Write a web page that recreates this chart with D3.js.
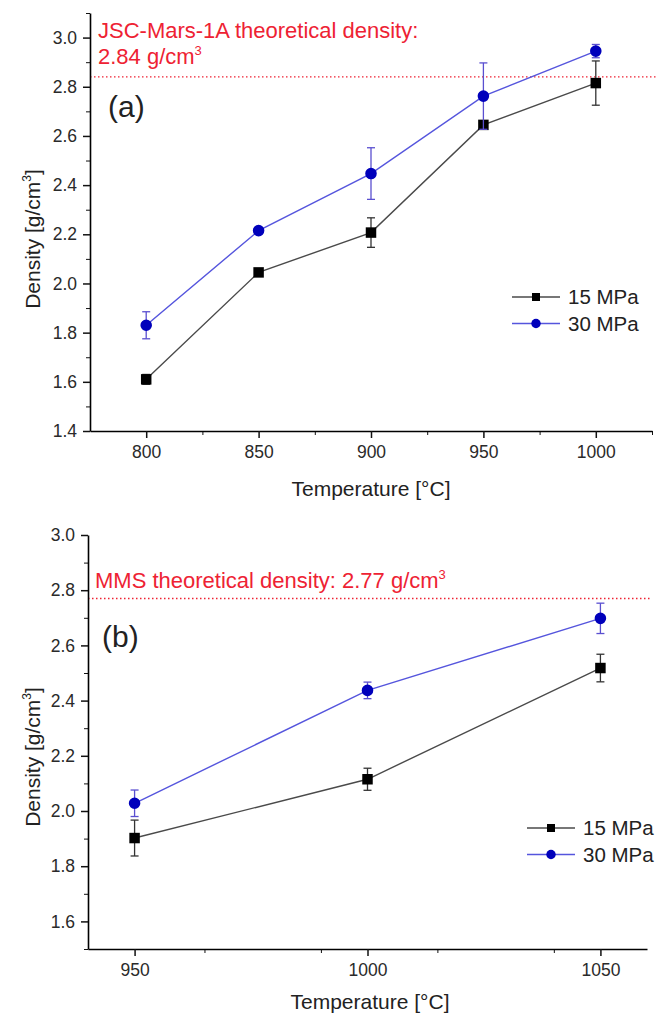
<!DOCTYPE html>
<html>
<head>
<meta charset="utf-8">
<script src="https://cdn.jsdelivr.net/npm/d3@7"></script>
<style>
  body { margin: 0; background: #fff; }
  svg { display: block; font-family: "Liberation Sans", Arial, sans-serif; }
</style>
</head>
<body>
<svg id="chart" width="666" height="1015"></svg>
<script>
// panel (a): JSC-Mars-1A
const tempsA = [800, 850, 900, 950, 1000];
const dens15A = [1.61, 2.045, 2.207, 2.645, 2.815];
const err15A = [0.02, 0.01, 0.06, 0.01, 0.09];
const dens30A = [1.83, 2.215, 2.447, 2.762, 2.945];
const err30A = [0.055, 0.01, 0.105, 0.135, 0.027];
const xTicksA = [800, 850, 900, 950, 1000];
const yTicksA = [1.4, 1.6, 1.8, 2.0, 2.2, 2.4, 2.6, 2.8, 3.0];
const theoA = 2.84;

// panel (b): MMS
const tempsB = [950, 1000, 1050];
const dens15B = [1.902, 2.115, 2.518];
const err15B = [0.065, 0.04, 0.05];
const dens30B = [2.028, 2.437, 2.698];
const err30B = [0.048, 0.03, 0.055];
const xTicksB = [950, 1000, 1050];
const yTicksB = [1.6, 1.8, 2.0, 2.2, 2.4, 2.6, 2.8, 3.0];
const theoB = 2.77;

const seriesNames = ["15 MPa", "30 MPa"];

const red = "#ee2233";
const styles = [
    {line: "#4a4a4a", marker: "#000", err: "#333", shape: "square"},
    {line: "#5555dd", marker: "#0000bb", err: "#5a4fd0", shape: "circle"}
];

const svg = d3.select("#chart");

function drawPanel(p) {
    const x = d3.scaleLinear().domain(p.xDomain).range(p.xRange);
    const y = d3.scaleLinear().domain(p.yDomain).range(p.yRange);
    const g = svg.append("g");

    // reference line
    g.append("line")
        .attr("x1", p.xRange[0]).attr("x2", p.xRange[1] + 4)
        .attr("y1", y(p.theo)).attr("y2", y(p.theo))
        .attr("stroke", red).attr("stroke-width", 1.3)
        .attr("stroke-dasharray", "1.5,2.5");

    // minor ticks
    const xMinor = d3.range(p.xDomain[0], p.xDomain[1] + 0.1, 25).filter(v => v % 50 !== 0 && v > p.xDomain[0]);
    g.append("g")
        .attr("transform", `translate(0,${p.yRange[0]})`)
        .call(d3.axisBottom(x).tickValues(xMinor).tickSize(4).tickFormat(""))
        .call(a => a.select(".domain").remove());
    const yMinor = d3.range(Math.round(p.yDomain[0] * 10), Math.round(p.yDomain[1] * 10) + 1)
        .filter(v => v % 2 !== 0).map(v => v / 10);
    g.append("g")
        .attr("transform", `translate(${p.xRange[0]},0)`)
        .call(d3.axisLeft(y).tickValues(yMinor).tickSize(4).tickFormat(""))
        .call(a => a.select(".domain").remove());

    const xAxis = g.append("g")
        .attr("transform", `translate(0,${p.yRange[0]})`)
        .call(d3.axisBottom(x).tickValues(p.xTicks).tickSize(7).tickPadding(8).tickSizeOuter(0).tickFormat(d3.format("d")));
    const yAxis = g.append("g")
        .attr("transform", `translate(${p.xRange[0]},0)`)
        .call(d3.axisLeft(y).tickValues(p.yTicks).tickSize(7).tickPadding(6).tickSizeOuter(0).tickFormat(d3.format(".1f")));
    [xAxis, yAxis].forEach(a => {
        a.selectAll("text").attr("font-size", 17.5).attr("fill", "#2a2a2a").attr("font-family", null);
        a.selectAll("line").attr("stroke-width", 1.5);
        a.select(".domain").attr("stroke-width", 1.6);
    });
    g.selectAll(".tick line").attr("stroke", "#111");

    // series
    p.series.forEach((s, i) => {
        const st = styles[i];
        const pts = p.temps.map((t, k) => ({t, v: s.vals[k], e: s.errs[k]}));
        g.append("path").datum(pts)
            .attr("fill", "none").attr("stroke", st.line).attr("stroke-width", 1.4)
            .attr("d", d3.line().x(d => x(d.t)).y(d => y(d.v)));
        const eb = g.append("g").attr("stroke", st.err).attr("stroke-width", 1.3);
        eb.selectAll(".v").data(pts).join("line")
            .attr("x1", d => x(d.t)).attr("x2", d => x(d.t))
            .attr("y1", d => y(d.v - d.e)).attr("y2", d => y(d.v + d.e));
        [-1, 1].forEach(sg => {
            eb.selectAll(".c" + sg).data(pts).join("line")
                .attr("x1", d => x(d.t) - 4).attr("x2", d => x(d.t) + 4)
                .attr("y1", d => y(d.v + sg * d.e)).attr("y2", d => y(d.v + sg * d.e));
        });
        const sym = d3.symbol().type(st.shape === "square" ? d3.symbolSquare : d3.symbolCircle)
            .size(st.shape === "square" ? 110 : 105);
        g.selectAll(".m" + i).data(pts).join("path")
            .attr("transform", d => `translate(${x(d.t)},${y(d.v)})`)
            .attr("d", sym).attr("fill", st.marker);

        // legend
        const ly = p.legend.y + i * 26.5;
        g.append("line")
            .attr("x1", p.legend.x).attr("x2", p.legend.x + 48)
            .attr("y1", ly).attr("y2", ly)
            .attr("stroke", st.line).attr("stroke-width", 1.4);
        g.append("path")
            .attr("transform", `translate(${p.legend.x + 24},${ly})`)
            .attr("d", d3.symbol().type(st.shape === "square" ? d3.symbolSquare : d3.symbolCircle).size(st.shape === "square" ? 64 : 70))
            .attr("fill", st.marker);
        g.append("text")
            .attr("x", p.legend.x + 56).attr("y", ly + 7)
            .attr("font-size", 20.5).attr("fill", "#222")
            .text(seriesNames[i]);
    });

    // panel tag
    g.append("text")
        .attr("x", p.tag.x).attr("y", p.tag.y)
        .attr("font-size", 30).attr("fill", "#222")
        .text(p.tag.text);

    // annotation
    p.note.lines.forEach((ln, k) => {
        const t = g.append("text")
            .attr("x", p.note.x).attr("y", p.note.y + k * 26)
            .attr("font-size", 22).attr("fill", red);
        t.append("tspan").text(ln[0]);
        if (ln[1]) t.append("tspan").attr("dy", -9).attr("font-size", 13).text(ln[1]);
    });

    // axis titles
    g.append("text")
        .attr("x", p.xTitle.x).attr("y", p.xTitle.y)
        .attr("text-anchor", "middle").attr("font-size", 21).attr("fill", "#222")
        .text("Temperature [°C]");
    const yt = g.append("text")
        .attr("transform", `translate(${p.yTitle.x},${p.yTitle.y}) rotate(-90)`)
        .attr("text-anchor", "middle").attr("font-size", 21).attr("fill", "#222");
    yt.append("tspan").text("Density [g/cm");
    yt.append("tspan").attr("dy", -9).attr("font-size", 12).text("3");
    yt.append("tspan").attr("dy", 9).text("]");
}

drawPanel({
    xDomain: [775, 1025], xRange: [90, 652],
    yDomain: [1.4, 3.1], yRange: [431, 13],
    xTicks: xTicksA, yTicks: yTicksA, temps: tempsA, theo: theoA,
    series: [{vals: dens15A, errs: err15A}, {vals: dens30A, errs: err30A}],
    legend: {x: 512, y: 297},
    tag: {x: 108, y: 117, text: "(a)"},
    note: {x: 98, y: 38, lines: [["JSC-Mars-1A theoretical density:"], ["2.84 g/cm", "3"]]},
    xTitle: {x: 371, y: 496},
    yTitle: {x: 40, y: 239}
});

drawPanel({
    xDomain: [940, 1060], xRange: [88, 647],
    yDomain: [1.5, 3.0], yRange: [949, 535],
    xTicks: xTicksB, yTicks: yTicksB, temps: tempsB, theo: theoB,
    series: [{vals: dens15B, errs: err15B}, {vals: dens30B, errs: err30B}],
    legend: {x: 527, y: 828},
    tag: {x: 102, y: 647, text: "(b)"},
    note: {x: 95, y: 588, lines: [["MMS theoretical density: 2.77 g/cm", "3"]]},
    xTitle: {x: 370, y: 1009},
    yTitle: {x: 40, y: 757}
});
</script>
</body>
</html>
